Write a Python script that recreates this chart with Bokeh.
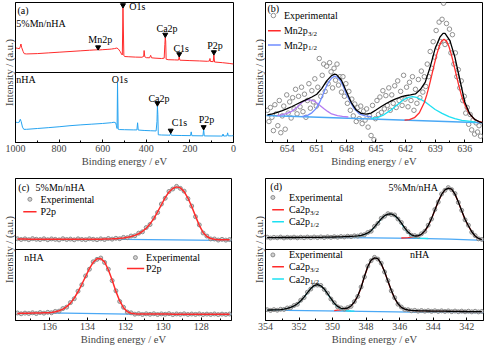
from bokeh.plotting import figure
from bokeh.models import Range1d, FixedTicker, Span
from bokeh.layouts import row, column
from bokeh.core.properties import value
from bokeh.embed import file_html
from bokeh.resources import INLINE

FONT = "Liberation Serif, Times New Roman, serif"

# ---------------- (a) survey spectra ----------------
survey_mn_energy = [1000, 990, 982, 978, 975, 972, 965, 960, 950, 900,
                    850, 800, 750, 700, 660, 640, 625, 621, 617, 600,
                    580, 560, 545, 535, 528, 520, 513, 510, 507, 503,
                    498, 480, 450, 420, 412, 410, 407, 400, 385, 380,
                    376, 360, 330, 318, 315, 313, 311, 309, 300, 270,
                    252, 249, 246, 200, 155, 120, 110, 108, 106, 93,
                    90, 87, 50, 20, 0]
survey_mn_intensity = [1.352, 1.345, 1.340, 1.370, 1.407, 1.360, 1.300, 1.269, 1.265, 1.270,
                       1.280, 1.290, 1.300, 1.310, 1.318, 1.322, 1.324, 1.335, 1.322, 1.326,
                       1.330, 1.335, 1.342, 1.350, 1.335, 1.300, 1.260, 1.250, 1.930, 1.240,
                       1.228, 1.225, 1.220, 1.218, 1.230, 1.314, 1.225, 1.212, 1.210, 1.245,
                       1.210, 1.205, 1.200, 1.205, 1.400, 1.500, 1.450, 1.190, 1.183, 1.180,
                       1.178, 1.228, 1.176, 1.170, 1.165, 1.160, 1.165, 1.200, 1.158, 1.155,
                       1.255, 1.150, 1.140, 1.130, 1.121]
survey_nha_energy = [1000, 990, 983, 978, 974, 968, 962, 950, 900, 850,
                     800, 750, 700, 650, 600, 560, 548, 540, 537, 534,
                     532, 529, 524, 500, 460, 443, 440, 437, 410, 380,
                     355, 351, 349, 347, 345, 330, 300, 291, 288, 285,
                     240, 197, 194, 191, 140, 137, 134, 60, 51, 48,
                     45, 30, 27, 24, 10, 0]
survey_nha_intensity = [0.291, 0.285, 0.290, 0.332, 0.300, 0.220, 0.188, 0.188, 0.200, 0.212,
                        0.225, 0.240, 0.252, 0.262, 0.272, 0.283, 0.290, 0.280, 0.240, 0.200,
                        0.859, 0.190, 0.185, 0.183, 0.180, 0.180, 0.282, 0.178, 0.172, 0.168,
                        0.165, 0.300, 0.523, 0.400, 0.110, 0.107, 0.105, 0.104, 0.134, 0.103,
                        0.100, 0.098, 0.152, 0.097, 0.095, 0.188, 0.094, 0.092, 0.092, 0.121,
                        0.092, 0.095, 0.138, 0.095, 0.095, 0.098]
survey_ticks = [0, 200, 400, 600, 800, 1000]

# ---------------- (b) Mn2p ----------------
mn_exp_energy = [656.00, 655.85, 655.70, 655.55, 655.40, 655.25, 655.10, 654.95, 654.80, 654.65,
                 654.50, 654.35, 654.20, 654.05, 653.90, 653.75, 653.60, 653.45, 653.30, 653.15,
                 653.00, 652.85, 652.70, 652.55, 652.40, 652.25, 652.10, 651.95, 651.80, 651.65,
                 651.50, 651.35, 651.20, 651.05, 650.90, 650.75, 650.60, 650.45, 650.30, 650.15,
                 650.00, 649.85, 649.70, 649.55, 649.40, 649.25, 649.10, 648.95, 648.80, 648.65,
                 648.50, 648.35, 648.20, 648.05, 647.90, 647.75, 647.60, 647.45, 647.30, 647.15,
                 647.00, 646.85, 646.70, 646.55, 646.40, 646.25, 646.10, 645.95, 645.80, 645.65,
                 645.50, 645.35, 645.20, 645.05, 644.90, 644.75, 644.60, 644.45, 644.30, 644.15,
                 644.00, 643.85, 643.70, 643.55, 643.40, 643.25, 643.10, 642.95, 642.80, 642.65,
                 642.50, 642.35, 642.20, 642.05, 641.90, 641.75, 641.60, 641.45, 641.30, 641.15,
                 641.00, 640.85, 640.70, 640.55, 640.40, 640.25, 640.10, 639.95, 639.80, 639.65,
                 639.50, 639.35, 639.20, 639.05, 638.90, 638.75, 638.60, 638.45, 638.30, 638.15,
                 638.00, 637.85, 637.70, 637.55, 637.40, 637.25, 637.10, 636.95, 636.80, 636.65,
                 636.50, 636.35, 636.20, 636.05, 635.90, 635.75, 635.60, 635.45, 635.30, 635.15,
                 635.00, 634.85, 634.70, 634.55, 634.40]
mn_exp_intensity = [0.230, 0.150, 0.250, 0.180, 0.085, 0.270, 0.205, 0.120, 0.300, 0.070,
                    0.190, 0.260, 0.095, 0.340, 0.210, 0.290, 0.175, 0.320, 0.240, 0.380,
                    0.205, 0.330, 0.255, 0.395, 0.220, 0.345, 0.180, 0.300, 0.420, 0.245,
                    0.370, 0.290, 0.455, 0.260, 0.395, 0.600, 0.330, 0.480, 0.560, 0.365,
                    0.545, 0.420, 0.570, 0.505, 0.390, 0.530, 0.445, 0.560, 0.410, 0.470,
                    0.360, 0.470, 0.330, 0.420, 0.280, 0.365, 0.230, 0.310, 0.190, 0.275,
                    0.150, 0.250, 0.170, 0.260, 0.135, 0.225, 0.160, 0.240, 0.110, 0.190,
                    0.050, 0.265, 0.020, 0.170, 0.300, 0.200, 0.325, 0.215, 0.370, 0.240,
                    0.335, 0.265, 0.390, 0.230, 0.340, 0.280, 0.405, 0.250, 0.440, 0.300,
                    0.365, 0.265, 0.480, 0.310, 0.395, 0.255, 0.430, 0.300, 0.470, 0.230,
                    0.380, 0.280, 0.450, 0.320, 0.510, 0.360, 0.470, 0.400, 0.560, 0.470,
                    0.650, 0.530, 0.720, 0.610, 0.800, 0.680, 0.860, 0.720, 0.880, 0.995,
                    0.700, 0.850, 0.720, 0.810, 0.640, 0.770, 0.560, 0.640, 0.470, 0.520,
                    0.390, 0.440, 0.300, 0.330, 0.210, 0.250, 0.130, 0.200, 0.090, 0.160,
                    0.060, 0.140, 0.075, 0.120, 0.045]
mn_fit_energy = [656.0, 655.5, 655.0, 654.5, 654.0, 653.5, 653.0, 652.5, 652.0, 651.5,
                 651.0, 650.5, 650.0, 649.5, 649.2, 649.0, 648.5, 648.0, 647.5, 647.0,
                 646.5, 646.0, 645.5, 645.0, 644.5, 644.0, 643.5, 643.0, 642.5, 642.0,
                 641.5, 641.0, 640.5, 640.0, 639.5, 639.0, 638.5, 638.2, 638.0, 637.5,
                 637.0, 636.5, 636.0, 635.5, 635.0, 634.5, 634.2]
mn_fit_intensity = [0.198, 0.205, 0.215, 0.228, 0.242, 0.257, 0.275, 0.292, 0.308, 0.325,
                    0.345, 0.385, 0.440, 0.478, 0.488, 0.485, 0.445, 0.365, 0.285, 0.232,
                    0.208, 0.202, 0.210, 0.232, 0.255, 0.277, 0.295, 0.312, 0.325, 0.334,
                    0.340, 0.347, 0.378, 0.432, 0.540, 0.672, 0.755, 0.780, 0.779, 0.728,
                    0.610, 0.450, 0.290, 0.205, 0.165, 0.148, 0.141]
mn32_energy = [642.1, 641.6, 641.1, 640.6, 640.1, 639.85, 639.6, 639.35, 639.1, 638.85,
               638.6, 638.35, 638.1, 637.85, 637.6, 637.35, 637.1, 636.85, 636.6, 636.35,
               636.1, 635.6, 635.1, 634.6, 634.2]
mn32_intensity = [0.160, 0.163, 0.177, 0.213, 0.286, 0.340, 0.406, 0.479, 0.555, 0.626,
                  0.685, 0.724, 0.737, 0.724, 0.685, 0.626, 0.555, 0.479, 0.406, 0.340,
                  0.286, 0.213, 0.170, 0.150, 0.143]
mn_sat32_energy = [645.5, 644.8, 644.2, 643.5, 642.8, 642.2, 641.7, 641.3, 640.9, 640.5,
                   640.0, 639.5, 639.0, 638.3, 637.6, 637.0, 636.3, 635.6, 634.9]
mn_sat32_intensity = [0.172, 0.180, 0.198, 0.231, 0.272, 0.306, 0.322, 0.327, 0.322, 0.309,
                      0.290, 0.262, 0.236, 0.208, 0.185, 0.170, 0.158, 0.152, 0.146]
mn12_energy = [652.5, 651.9, 651.5, 651.1, 650.7, 650.4, 650.1, 649.8, 649.5, 649.2,
               648.9, 648.6, 648.3, 648.0, 647.6, 647.2, 646.7, 646.1, 645.4]
mn12_intensity = [0.185, 0.196, 0.212, 0.240, 0.288, 0.338, 0.390, 0.432, 0.460, 0.474,
                  0.466, 0.440, 0.398, 0.345, 0.290, 0.240, 0.205, 0.190, 0.183]
mn_sat12_energy = [655.0, 654.6, 654.1, 653.6, 653.2, 652.8, 652.4, 652.0, 651.6, 651.2,
                   650.8, 650.3, 649.9, 649.5, 648.9, 648.4, 647.8]
mn_sat12_intensity = [0.192, 0.197, 0.206, 0.220, 0.240, 0.265, 0.292, 0.306, 0.303, 0.293,
                      0.272, 0.243, 0.222, 0.204, 0.192, 0.186, 0.182]
mn_base_energy = [656.1, 634.2]
mn_base_intensity = [0.193, 0.141]
mn_ticks = [636, 639, 642, 645, 648, 651, 654]

# ---------------- (c) P2p ----------------
p_energy = [137.7, 137.5, 137.3, 137.1, 136.9, 136.7, 136.5, 136.3, 136.1, 135.9,
            135.7, 135.5, 135.3, 135.1, 134.9, 134.7, 134.5, 134.3, 134.1, 133.9,
            133.7, 133.5, 133.3, 133.1, 132.9, 132.7, 132.5, 132.3, 132.1, 131.9,
            131.7, 131.5, 131.3, 131.1, 130.9, 130.7, 130.5, 130.3, 130.1, 129.9,
            129.7, 129.5, 129.3, 129.1, 128.9, 128.7, 128.5, 128.3, 128.1, 127.9,
            127.7, 127.5, 127.3, 127.1, 126.9, 126.7, 126.5]
p_mn_fit = [1.147, 1.147, 1.147, 1.146, 1.146, 1.146, 1.146, 1.146, 1.145, 1.145,
            1.145, 1.145, 1.145, 1.145, 1.145, 1.145, 1.145, 1.145, 1.145, 1.145,
            1.145, 1.145, 1.146, 1.147, 1.148, 1.150, 1.153, 1.157, 1.163, 1.171,
            1.183, 1.199, 1.222, 1.255, 1.300, 1.360, 1.435, 1.530, 1.630, 1.730,
            1.810, 1.860, 1.882, 1.868, 1.815, 1.725, 1.605, 1.470, 1.340, 1.240,
            1.183, 1.155, 1.143, 1.139, 1.138, 1.137, 1.137]
p_mn_exp = [1.152, 1.141, 1.150, 1.139, 1.153, 1.144, 1.140, 1.151, 1.138, 1.149,
            1.143, 1.136, 1.152, 1.141, 1.147, 1.137, 1.150, 1.142, 1.139, 1.151,
            1.144, 1.138, 1.150, 1.141, 1.155, 1.146, 1.158, 1.152, 1.170, 1.166,
            1.190, 1.194, 1.230, 1.249, 1.309, 1.352, 1.444, 1.521, 1.640, 1.722,
            1.818, 1.852, 1.889, 1.861, 1.822, 1.716, 1.612, 1.462, 1.347, 1.233,
            1.189, 1.149, 1.148, 1.133, 1.143, 1.132, 1.140]
p_nha_fit = [0.100, 0.101, 0.102, 0.103, 0.104, 0.105, 0.106, 0.108, 0.110, 0.114,
             0.122, 0.138, 0.160, 0.195, 0.245, 0.315, 0.405, 0.510, 0.620, 0.730,
             0.820, 0.868, 0.872, 0.825, 0.715, 0.570, 0.410, 0.275, 0.180, 0.125,
             0.102, 0.094, 0.091, 0.090, 0.090, 0.090, 0.090, 0.090, 0.090, 0.090,
             0.090, 0.089, 0.089, 0.089, 0.089, 0.089, 0.089, 0.089, 0.089, 0.088,
             0.088, 0.088, 0.088, 0.088, 0.088, 0.088, 0.088]
p_nha_exp = [0.106, 0.095, 0.104, 0.099, 0.109, 0.098, 0.112, 0.103, 0.115, 0.109,
             0.128, 0.132, 0.168, 0.188, 0.252, 0.306, 0.413, 0.502, 0.628, 0.722,
             0.827, 0.861, 0.880, 0.818, 0.722, 0.562, 0.418, 0.268, 0.186, 0.119,
             0.108, 0.089, 0.096, 0.085, 0.094, 0.087, 0.095, 0.084, 0.093, 0.088,
             0.096, 0.083, 0.092, 0.087, 0.094, 0.085, 0.091, 0.086, 0.093, 0.084,
             0.090, 0.085, 0.092, 0.083, 0.090, 0.086, 0.091]
p_mn_base_energy = [137.7, 132.0, 127.0, 126.4]
p_mn_base = [1.145, 1.143, 1.128, 1.127]
p_nha_base_energy = [137.7, 136.0, 131.8, 126.4]
p_nha_base = [0.100, 0.108, 0.090, 0.088]
p_ticks = [128, 130, 132, 134, 136]

# ---------------- (d) Ca2p ----------------
ca_energy = [353.9, 353.7, 353.5, 353.3, 353.1, 352.9, 352.7, 352.5, 352.3, 352.1,
             351.9, 351.7, 351.5, 351.3, 351.1, 350.9, 350.7, 350.5, 350.3, 350.1,
             349.9, 349.7, 349.5, 349.3, 349.1, 348.9, 348.7, 348.5, 348.3, 348.1,
             347.9, 347.7, 347.5, 347.3, 347.1, 346.9, 346.7, 346.5, 346.3, 346.1,
             345.9, 345.7, 345.5, 345.3, 345.1, 344.9, 344.7, 344.5, 344.3, 344.1,
             343.9, 343.7, 343.5, 343.3, 343.1, 342.9, 342.7, 342.5, 342.3, 342.1,
             341.9, 341.7, 341.5, 341.3, 341.1]
ca_mn_fit = [1.168, 1.168, 1.168, 1.168, 1.169, 1.169, 1.169, 1.169, 1.169, 1.169,
             1.170, 1.170, 1.170, 1.171, 1.171, 1.172, 1.172, 1.173, 1.174, 1.175,
             1.176, 1.177, 1.179, 1.181, 1.183, 1.185, 1.188, 1.192, 1.200, 1.213,
             1.233, 1.265, 1.318, 1.375, 1.432, 1.475, 1.498, 1.500, 1.480, 1.436,
             1.375, 1.305, 1.245, 1.207, 1.190, 1.192, 1.215, 1.262, 1.335, 1.435,
             1.555, 1.675, 1.775, 1.840, 1.865, 1.850, 1.780, 1.670, 1.545, 1.425,
             1.335, 1.250, 1.190, 1.156, 1.138]
ca_mn_exp = [1.174, 1.162, 1.171, 1.165, 1.175, 1.163, 1.172, 1.166, 1.174, 1.164,
             1.173, 1.166, 1.175, 1.167, 1.176, 1.168, 1.177, 1.169, 1.178, 1.171,
             1.180, 1.173, 1.183, 1.177, 1.187, 1.181, 1.192, 1.189, 1.205, 1.209,
             1.240, 1.258, 1.326, 1.368, 1.440, 1.469, 1.505, 1.494, 1.486, 1.429,
             1.381, 1.298, 1.251, 1.201, 1.195, 1.187, 1.221, 1.256, 1.342, 1.428,
             1.563, 1.668, 1.782, 1.833, 1.872, 1.843, 1.787, 1.663, 1.552, 1.418,
             1.342, 1.243, 1.196, 1.150, 1.142]
ca_nha_fit = [0.147, 0.148, 0.149, 0.151, 0.154, 0.160, 0.170, 0.185, 0.205, 0.235,
              0.278, 0.330, 0.392, 0.450, 0.492, 0.505, 0.488, 0.445, 0.380, 0.310,
              0.245, 0.198, 0.172, 0.166, 0.176, 0.205, 0.260, 0.345, 0.465, 0.620,
              0.760, 0.850, 0.882, 0.872, 0.800, 0.690, 0.555, 0.425, 0.315, 0.235,
              0.185, 0.160, 0.148, 0.142, 0.139, 0.137, 0.136, 0.135, 0.134, 0.133,
              0.133, 0.132, 0.131, 0.131, 0.130, 0.129, 0.129, 0.128, 0.127, 0.127,
              0.126, 0.126, 0.125, 0.125, 0.124]
ca_nha_exp = [0.152, 0.142, 0.153, 0.145, 0.158, 0.156, 0.176, 0.181, 0.211, 0.229,
              0.285, 0.323, 0.399, 0.443, 0.498, 0.499, 0.494, 0.438, 0.386, 0.303,
              0.251, 0.193, 0.177, 0.161, 0.181, 0.199, 0.266, 0.339, 0.472, 0.613,
              0.767, 0.843, 0.889, 0.865, 0.807, 0.683, 0.562, 0.418, 0.322, 0.229,
              0.190, 0.155, 0.152, 0.137, 0.143, 0.132, 0.140, 0.131, 0.138, 0.129,
              0.137, 0.128, 0.136, 0.127, 0.135, 0.125, 0.133, 0.124, 0.132, 0.123,
              0.131, 0.122, 0.130, 0.121, 0.128]
ca_mn32_energy = [345.9, 345.7, 345.5, 345.3, 345.1, 344.9, 344.7, 344.5, 344.3, 344.1,
                  343.9, 343.7, 343.5, 343.3, 343.1, 342.9, 342.7, 342.5, 342.3, 342.1,
                  341.9, 341.7, 341.5, 341.3, 341.1]
ca_mn32 = [1.162, 1.163, 1.166, 1.172, 1.180, 1.190, 1.210, 1.255, 1.330, 1.432,
           1.553, 1.673, 1.773, 1.838, 1.863, 1.848, 1.778, 1.668, 1.543, 1.423,
           1.333, 1.248, 1.188, 1.154, 1.136]
ca_mn12_energy = [348.7, 348.5, 348.3, 348.1, 347.9, 347.7, 347.5, 347.3, 347.1, 346.9,
                  346.7, 346.5, 346.3, 346.1, 345.9, 345.7, 345.5, 345.3, 345.1, 344.9,
                  344.7, 344.5, 344.3]
ca_mn12 = [1.180, 1.184, 1.193, 1.207, 1.229, 1.262, 1.316, 1.373, 1.430, 1.473,
           1.496, 1.498, 1.478, 1.432, 1.368, 1.295, 1.232, 1.190, 1.170, 1.162,
           1.158, 1.156, 1.155]
ca_nha32_energy = [349.9, 349.7, 349.5, 349.3, 349.1, 348.9, 348.7, 348.5, 348.3, 348.1,
                   347.9, 347.7, 347.5, 347.3, 347.1, 346.9, 346.7, 346.5, 346.3, 346.1,
                   345.9, 345.7, 345.5, 345.3, 345.1, 344.7, 344.3, 343.5, 342.5, 341.5,
                   341.1]
ca_nha32 = [0.140, 0.145, 0.150, 0.158, 0.172, 0.202, 0.258, 0.343, 0.463, 0.618,
            0.758, 0.848, 0.880, 0.870, 0.798, 0.688, 0.553, 0.423, 0.313, 0.233,
            0.183, 0.158, 0.146, 0.140, 0.136, 0.134, 0.133, 0.130, 0.127, 0.125,
            0.124]
ca_nha12_energy = [353.9, 353.5, 353.1, 352.9, 352.7, 352.5, 352.3, 352.1, 351.9, 351.7,
                   351.5, 351.3, 351.1, 350.9, 350.7, 350.5, 350.3, 350.1, 349.9, 349.7,
                   349.5, 349.3, 349.1, 348.9, 348.7]
ca_nha12 = [0.147, 0.149, 0.153, 0.159, 0.169, 0.184, 0.204, 0.233, 0.276, 0.328,
            0.390, 0.448, 0.490, 0.503, 0.486, 0.443, 0.377, 0.305, 0.238, 0.188,
            0.157, 0.142, 0.136, 0.134, 0.133]
ca_mn_base_energy = [353.9, 349.0, 345.0, 343.0, 341.0]
ca_mn_base = [1.168, 1.166, 1.158, 1.145, 1.128]
ca_nha_base_energy = [353.9, 349.3, 345.2, 341.0]
ca_nha_base = [0.147, 0.133, 0.118, 0.112]
ca_ticks = [342, 344, 346, 348, 350, 352, 354]

# ---------------- styles ----------------
RED = "#ff2b2b"
SURVEY_BLUE = "#26a3f0"
BASE = "#4aa8f5"
CYAN = "#1ce0f2"
MN_BLUE = "#6f8dff"
PURPLE = "#b47cf2"
PT_EDGE = "#858585"
PT_FILL = "white"
TXT = "10px"


def make_fig(w, h, xr, borders, xticks, minor):
    bl, br, bt, bb = borders
    p = figure(width=w, height=h, x_range=Range1d(*xr), y_range=Range1d(0, 2),
               output_backend="svg", toolbar_location=None,
               min_border_left=bl, min_border_right=br,
               min_border_top=bt, min_border_bottom=bb)
    p.xgrid.visible = False
    p.ygrid.visible = False
    p.outline_line_color = "black"
    p.outline_line_width = 1
    p.outline_line_alpha = 1
    p.background_fill_color = "white"
    p.border_fill_color = "white"
    xa = p.xaxis[0]
    xa.ticker = FixedTicker(ticks=xticks, minor_ticks=minor)
    xa.axis_label = "Binding energy / eV"
    xa.axis_label_text_font = FONT
    xa.axis_label_text_font_style = "normal"
    xa.axis_label_text_font_size = "10.5px"
    xa.axis_label_standoff = 1
    xa.major_label_text_font = FONT
    xa.major_label_text_font_size = "10px"
    xa.major_label_standoff = 2
    xa.major_tick_in = 3
    xa.major_tick_out = 0
    xa.minor_tick_in = 2
    xa.minor_tick_out = 0
    xa.axis_line_color = "black"
    ya = p.yaxis[0]
    ya.ticker = FixedTicker(ticks=[])
    ya.axis_label = "Intensity / (a.u.)"
    ya.axis_label_text_font = FONT
    ya.axis_label_text_font_style = "normal"
    ya.axis_label_text_font_size = "10.5px"
    ya.axis_label_standoff = 1
    ya.major_tick_in = 0
    ya.major_tick_out = 0
    ya.minor_tick_in = 0
    ya.minor_tick_out = 0
    ya.axis_line_color = "black"
    return p


def txt(p, x, y, t, align="left", size=TXT):
    p.text(x=x, y=y, text=t, text_font=value(FONT), text_font_size=size,
           text_align=align, text_baseline="middle", text_color="black")


def sub_txt(p, x, y, main, sub, main_w):
    txt(p, [x], [y], [main])
    p.text(x=[x], y=[y], text=[sub], x_offset=main_w, y_offset=3,
           text_font=value(FONT), text_font_size="7px",
           text_align="left", text_baseline="middle", text_color="black")


def divider(p):
    p.add_layout(Span(location=1, dimension="width", line_color="black", line_width=1))


def points(p, x, y, size=4, fill=PT_FILL, alpha=0.6):
    p.scatter(x=x, y=y, marker="circle", size=size, line_color=PT_EDGE,
              fill_color=fill, fill_alpha=alpha, line_width=0.9)


# ---------------- (a) ----------------
pa = make_fig(247, 170, (1000, 0), (14, 14, 2, 28), survey_ticks,
              [100, 300, 500, 700, 900])
pa.y_range = Range1d(0, 2)
divider(pa)
pa.line(survey_mn_energy, survey_mn_intensity, line_color=RED, line_width=1)
pa.line(survey_nha_energy, survey_nha_intensity, line_color=SURVEY_BLUE, line_width=1)
pa.scatter(x=[507, 621, 313, 249, 90, 349, 288, 137],
           y=[1.962, 1.36, 1.54, 1.262, 1.29, 0.56, 0.17, 0.22],
           marker="inverted_triangle", size=5, fill_color="black", line_color="black")
txt(pa, [991], [1.885], ["(a)"])
txt(pa, [996], [1.697], ["5%Mn/nHA"])
txt(pa, [478], [1.94], ["O1s"])
txt(pa, [611, 305, 240, 84.5], [1.476, 1.623, 1.338, 1.383],
    ["Mn2p", "Ca2p", "C1s", "P2p"], align="center")
txt(pa, [996], [0.899], ["nHA"])
txt(pa, [521, 342, 248, 124], [0.903, 0.627, 0.291, 0.322],
    ["O1s", "Ca2p", "C1s", "P2p"], align="center")

# ---------------- (b) ----------------
pb = make_fig(237, 170, (656.2, 634.2), (18, 2, 2, 28), mn_ticks,
              [637.5, 640.5, 643.5, 646.5, 649.5, 652.5, 655.5])
pb.y_range = Range1d(0, 1)
points(pb, mn_exp_energy, mn_exp_intensity, size=4.5)
pb.line(mn_base_energy, mn_base_intensity, line_color=BASE, line_width=1.3)
pb.line(mn_sat12_energy, mn_sat12_intensity, line_color=PURPLE, line_width=1.3)
pb.line(mn12_energy, mn12_intensity, line_color=MN_BLUE, line_width=1.3)
pb.line(mn_sat32_energy, mn_sat32_intensity, line_color=CYAN, line_width=1.3)
pb.line(mn32_energy, mn32_intensity, line_color=RED, line_width=1.3)
pb.line(mn_fit_energy, mn_fit_intensity, line_color="black", line_width=1.3)
txt(pb, [656.0], [0.955], ["(b)"])
points(pb, [655.4], [0.907], size=4.5)
txt(pb, [654.33], [0.907], ["Experimental"])
pb.line([655.95, 654.65], [0.798, 0.798], line_color=RED, line_width=1.5)
sub_txt(pb, 654.33, 0.798, "Mn2p", "3/2", 24)
pb.line([655.95, 654.65], [0.696, 0.696], line_color=MN_BLUE, line_width=1.5)
sub_txt(pb, 654.33, 0.696, "Mn2p", "1/2", 24)

# ---------------- (c) ----------------
pc = make_fig(247, 177, (137.8, 126.4), (14, 16, 8, 25), p_ticks,
              [127, 129, 131, 133, 135, 137])
pc.y_range = Range1d(0, 2)
divider(pc)
pc.line(p_mn_base_energy, p_mn_base, line_color=BASE, line_width=1.3)
pc.line(p_nha_base_energy, p_nha_base, line_color=BASE, line_width=1.3)
points(pc, p_energy, p_mn_exp, size=4, fill="#bdbdbd", alpha=0.7)
points(pc, p_energy, p_nha_exp, size=4, fill="#bdbdbd", alpha=0.7)
pc.line(p_energy, p_mn_fit, line_color=RED, line_width=1.5)
pc.line(p_energy, p_nha_fit, line_color=RED, line_width=1.5)
txt(pc, [137.65], [1.88], ["(c)"])
txt(pc, [136.74], [1.88], ["5%Mn/nHA"])
points(pc, [137.04], [1.707], size=4, fill="#bdbdbd", alpha=0.7)
txt(pc, [136.48], [1.707], ["Experimental"])
pc.line([137.39, 136.69], [1.53, 1.53], line_color=RED, line_width=1.5)
txt(pc, [136.48], [1.53], ["P2p"])
txt(pc, [137.34], [0.893], ["nHA"])
points(pc, [131.47], [0.886], size=4, fill="#bdbdbd", alpha=0.7)
txt(pc, [130.91], [0.886], ["Experimental"])
pc.line([131.92, 131.01], [0.732, 0.732], line_color=RED, line_width=1.5)
txt(pc, [130.91], [0.732], ["P2p"])

# ---------------- (d) ----------------
pd_ = make_fig(237, 177, (354, 341), (18, 1, 8, 25), ca_ticks,
               [343, 345, 347, 349, 351, 353])
pd_.y_range = Range1d(0, 2)
divider(pd_)
pd_.line(ca_mn_base_energy, ca_mn_base, line_color=BASE, line_width=1.3)
pd_.line(ca_nha_base_energy, ca_nha_base, line_color=BASE, line_width=1.3)
pd_.line(ca_mn32_energy, ca_mn32, line_color=RED, line_width=1.3)
pd_.line(ca_mn12_energy, ca_mn12, line_color=CYAN, line_width=1.3)
pd_.line(ca_nha32_energy, ca_nha32, line_color=RED, line_width=1.3)
pd_.line(ca_nha12_energy, ca_nha12, line_color=CYAN, line_width=1.3)
points(pd_, ca_energy, ca_mn_exp, size=4, fill="#bdbdbd", alpha=0.7)
points(pd_, ca_energy, ca_nha_exp, size=4, fill="#bdbdbd", alpha=0.7)
pd_.line(ca_energy, ca_mn_fit, line_color="black", line_width=1.3)
pd_.line(ca_energy, ca_nha_fit, line_color="black", line_width=1.3)
txt(pd_, [353.71], [1.89], ["(d)"])
txt(pd_, [346.66], [1.88], ["5%Mn/nHA"])
points(pd_, [353.56], [1.733], size=4, fill="#bdbdbd", alpha=0.7)
txt(pd_, [352.6], [1.733], ["Experimental"])
pd_.line([353.6, 352.9], [1.56, 1.56], line_color=RED, line_width=1.5)
sub_txt(pd_, 352.6, 1.56, "Ca2p", "3/2", 21)
pd_.line([353.6, 352.9], [1.391, 1.391], line_color=CYAN, line_width=1.5)
sub_txt(pd_, 352.6, 1.391, "Ca2p", "1/2", 21)
txt(pd_, [345.39], [0.924], ["nHA"])
points(pd_, [353.56], [0.924], size=4, fill="#bdbdbd", alpha=0.7)
txt(pd_, [352.6], [0.924], ["Experimental"])
pd_.line([353.6, 352.9], [0.756, 0.756], line_color=RED, line_width=1.5)
sub_txt(pd_, 352.6, 0.756, "Ca2p", "3/2", 21)
pd_.line([353.6, 352.9], [0.583, 0.583], line_color=CYAN, line_width=1.5)
sub_txt(pd_, 352.6, 0.583, "Ca2p", "1/2", 21)

layout = column(row(pa, pb), row(pc, pd_))
open("out.html", "w").write(file_html(layout, INLINE))
